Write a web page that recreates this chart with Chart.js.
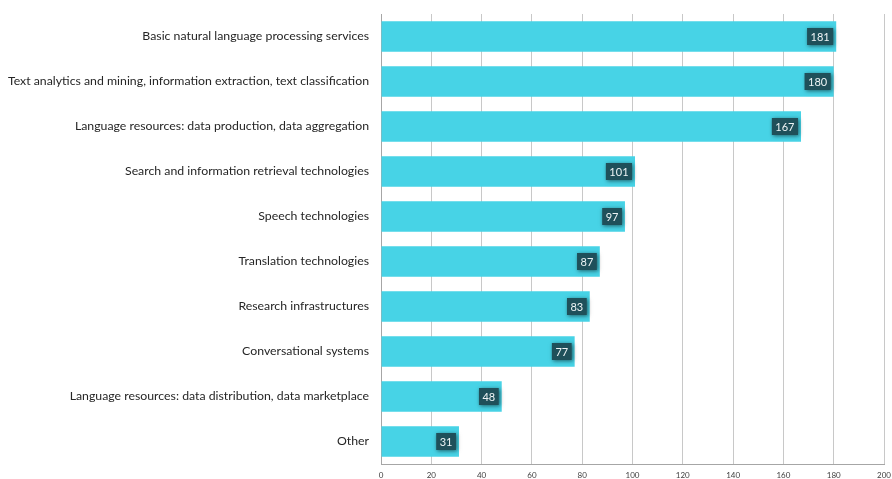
<!DOCTYPE html>
<html>
<head>
<meta charset="utf-8">
<script src="https://cdn.jsdelivr.net/npm/chart.js@4/dist/chart.umd.min.js"></script>
<style>
  html, body { margin: 0; padding: 0; background: #ffffff; }
  #wrap { width: 892px; height: 479px; position: relative; }
</style>
</head>
<body>
<div id="wrap"><canvas id="topicsChart"></canvas></div>
<script>
// categories and counts
const categories = [
  'Basic natural language processing services',
  'Text analytics and mining, information extraction, text classification',
  'Language resources: data production, data aggregation',
  'Search and information retrieval technologies',
  'Speech technologies',
  'Translation technologies',
  'Research infrastructures',
  'Conversational systems',
  'Language resources: data distribution, data marketplace',
  'Other'
];
const counts = [181, 180, 167, 101, 97, 87, 83, 77, 48, 31];
const xTicks = [0, 20, 40, 60, 80, 100, 120, 140, 160, 180, 200];

const fontFamily = 'Lato, "Liberation Sans", sans-serif';

// dark boxes with the value at the end of each bar
const valueBoxes = {
  id: 'valueBoxes',
  afterDatasetsDraw(chart) {
    const ctx = chart.ctx;
    const meta = chart.getDatasetMeta(0);
    ctx.save();
    ctx.font = '11px ' + fontFamily;
    meta.data.forEach((bar, i) => {
      const txt = String(counts[i]);
      const w = ctx.measureText(txt).width + 7;
      const h = 17;
      const x = bar.x - 3 - w;
      const y = bar.y - h / 2;
      ctx.shadowColor = 'rgba(0,0,0,0.55)';
      ctx.shadowBlur = 4;
      ctx.shadowOffsetX = 1;
      ctx.shadowOffsetY = 1;
      ctx.fillStyle = '#1f505a';
      ctx.fillRect(x, y, w, h);
      ctx.shadowColor = 'transparent';
      ctx.fillStyle = '#eef4f5';
      ctx.textAlign = 'center';
      ctx.textBaseline = 'middle';
      ctx.fillText(txt, x + w / 2, bar.y + 0.5);
    });
    ctx.restore();
  }
};

const ctx = document.getElementById('topicsChart').getContext('2d');
new Chart(ctx, {
  type: 'bar',
  data: {
    labels: categories,
    datasets: [{
      data: counts,
      backgroundColor: '#47d3e6',
      borderWidth: 0,
      barPercentage: 0.68,
      categoryPercentage: 1
    }]
  },
  plugins: [valueBoxes],
  options: {
    indexAxis: 'y',
    responsive: true,
    maintainAspectRatio: false,
    animation: false,
    layout: { padding: { top: 14, right: 8, left: 0, bottom: 0 } },
    plugins: {
      legend: { display: false },
      tooltip: { enabled: false }
    },
    scales: {
      x: {
        min: 0,
        max: 200,
        afterBuildTicks: (scale) => { scale.ticks = xTicks.map(v => ({ value: v })); },
        afterFit: (scale) => {
          scale.height = 15;
          scale.paddingLeft = 0;
          scale.paddingRight = 0;
        },
        grid: { color: '#c8c8c8', lineWidth: 1, drawTicks: false },
        border: { color: '#a6a6a6' },
        ticks: {
          color: '#404040',
          padding: 7,
          font: { size: 8, family: fontFamily }
        }
      },
      y: {
        afterFit: (scale) => {
          scale.width = 381;
          scale.paddingTop = 0;
          scale.paddingBottom = 0;
        },
        grid: { display: false, drawTicks: false },
        border: { color: '#a6a6a6' },
        ticks: {
          color: '#262626',
          padding: 12,
          font: { size: 12.3, family: fontFamily }
        }
      }
    }
  }
});
</script>
</body>
</html>
